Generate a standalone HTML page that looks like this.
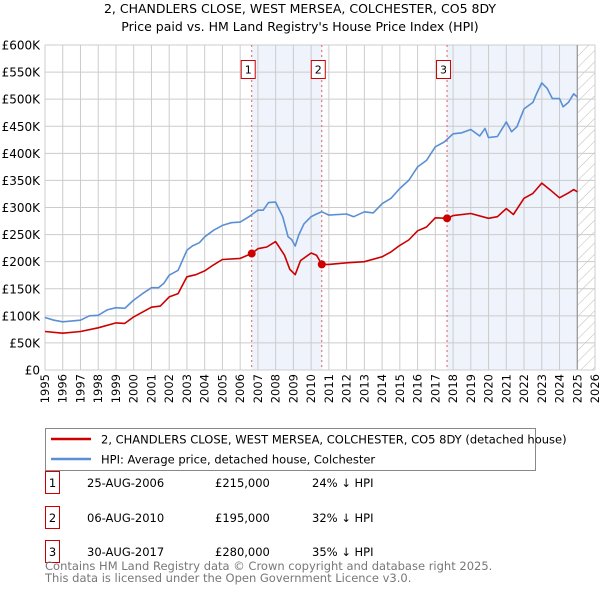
<!DOCTYPE html>
<html><head><meta charset="utf-8"><style>
body{margin:0;background:#fff;}
svg text{font-family:"DejaVu Sans","Liberation Sans",sans-serif;}
</style></head><body>
<svg id="c" width="600" height="590" viewBox="0 0 600 590" xmlns="http://www.w3.org/2000/svg">
<defs><pattern id="hatch" width="8" height="8" patternUnits="userSpaceOnUse" patternTransform="rotate(45)"><line x1="0" y1="0" x2="0" y2="8" stroke="#bbb" stroke-width="1"/></pattern></defs>
<text x="300" y="13" text-anchor="middle" font-size="12.5">2, CHANDLERS CLOSE, WEST MERSEA, COLCHESTER, CO5 8DY</text>
<text x="300" y="31" text-anchor="middle" font-size="12.5">Price paid vs. HM Land Registry's House Price Index (HPI)</text>
<g id="plot"></g>
<g>
<rect x="45.5" y="428.5" width="490" height="42" fill="#fff" stroke="#888"/>
<line x1="51" y1="439" x2="91" y2="439" stroke="#cc0000" stroke-width="2.5"/>
<text x="101" y="443.5" font-size="11.5">2, CHANDLERS CLOSE, WEST MERSEA, COLCHESTER, CO5 8DY (detached house)</text>
<line x1="51" y1="459" x2="91" y2="459" stroke="#5b8fd4" stroke-width="2.5"/>
<text x="101" y="463.5" font-size="11.5">HPI: Average price, detached house, Colchester</text>
</g>
<g id="table" font-size="11.5"></g>
<text x="45" y="570" font-size="11.5" fill="#777">Contains HM Land Registry data © Crown copyright and database right 2025.</text>
<text x="45" y="582" font-size="11.5" fill="#777">This data is licensed under the Open Government Licence v3.0.</text>
</svg>
<script>
const hpiYears=[1995,1995.5,1996,1997,1997.5,1998,1998.5,1999,1999.5,2000,2000.5,2001,2001.4,2001.7,2002,2002.5,2003,2003.3,2003.7,2004,2004.5,2005,2005.5,2006,2006.5,2007,2007.3,2007.6,2008,2008.4,2008.7,2008.9,2009.1,2009.3,2009.6,2010,2010.3,2010.6,2011,2012,2012.4,2013,2013.5,2014,2014.5,2015,2015.5,2016,2016.5,2017,2017.5,2018,2018.5,2019,2019.5,2019.8,2020,2020.5,2021,2021.3,2021.6,2022,2022.5,2022.7,2023,2023.3,2023.6,2024,2024.2,2024.5,2024.8,2025];
const hpiValues=[97,92,89,92,100,101,111,115,114,129,141,152,152,160,175,184,221,229,235,246,258,267,272,273,283,295,295,309,310,283,246,241,229,249,270,283,288,292,286,288,283,292,290,307,317,335,350,375,387,412,421,436,438,444,432,446,429,431,458,440,449,482,494,510,530,520,501,501,486,494,510,504];
const propYears=[1995,1996,1997,1998,1999,1999.5,2000,2001,2001.5,2002,2002.5,2003,2003.5,2004,2004.5,2005,2006,2006.65,2007,2007.5,2008,2008.5,2008.8,2009.1,2009.4,2010,2010.3,2010.6,2011,2012,2013,2014,2014.5,2015,2015.5,2016,2016.5,2017,2017.66,2018,2019,2020,2020.5,2021,2021.4,2022,2022.5,2023,2023.5,2024,2024.5,2024.8,2025];
const propValues=[71,68,71,78,87,86,98,116,118,135,141,172,176,183,194,204,206,215,224,227,237,212,186,176,202,216,212,195,195,198,200,209,218,230,240,257,264,281,280,285,289,280,283,298,287,317,326,345,332,318,327,333,329];
const saleYears=[2006.65,2010.6,2017.66];
const saleValues=[215,195,280];
const saleLabels=["1","2","3"];
const saleDates=["25-AUG-2006","06-AUG-2010","30-AUG-2017"];
const salePrices=["£215,000","£195,000","£280,000"];
const saleDiffs=["24% ↓ HPI","32% ↓ HPI","35% ↓ HPI"];
const yTicks=[0,50,100,150,200,250,300,350,400,450,500,550,600];
const yTickLabels=["£0","£50K","£100K","£150K","£200K","£250K","£300K","£350K","£400K","£450K","£500K","£550K","£600K"];
const xTicks=[];for(let y=1995;y<=2026;y++)xTicks.push(y);

const X0=45,X1=595,Y0=370,Y1=45;
const xs=v=>X0+(v-1995)/(2026-1995)*(X1-X0);
const ys=v=>Y0-v/600*(Y0-Y1);
const NS="http://www.w3.org/2000/svg";
const plot=document.getElementById('plot');
function mk(tag,attrs,parent){const e=document.createElementNS(NS,tag);for(const k in attrs)e.setAttribute(k,attrs[k]);(parent||plot).appendChild(e);return e;}

let bg=mk('rect',{x:X0,y:Y1,width:X1-X0,height:Y0-Y1,fill:'#fff'});


let s1=mk('rect',{x:xs(saleYears[0]),y:Y1,width:xs(saleYears[1])-xs(saleYears[0]),height:Y0-Y1,fill:'#eef3fc'});


let s2=mk('rect',{x:xs(saleYears[2]),y:Y1,width:xs(2025)-xs(saleYears[2]),height:Y0-Y1,fill:'#eef3fc'});


let ht=mk('rect',{x:xs(2025),y:Y1,width:X1-xs(2025),height:Y0-Y1,fill:'url(#hatch)'});


xTicks.forEach(t=>{
  let l=mk('line',{x1:xs(t),x2:xs(t),y1:Y1,y2:Y0,stroke:'#ccc','stroke-width':1});
  
  
  let tx=mk('text',{transform:`translate(${xs(t)+4},374) rotate(-90)`,'text-anchor':'end','font-size':'11.5'});
  tx.textContent=t;
  
  
});
yTicks.forEach((t,i)=>{
  let l=mk('line',{x1:X0,x2:X1,y1:ys(t),y2:ys(t),stroke:'#ccc','stroke-width':1});
  
  
  let tx=mk('text',{x:40,y:ys(t)+4.5,'text-anchor':'end','font-size':'12'});
  tx.textContent=yTickLabels[i];
  
  
});
let dl=mk('line',{x1:xs(2025),x2:xs(2025),y1:Y1,y2:Y0,stroke:'#888','stroke-width':1});


saleYears.forEach((y,i)=>{
  let l=mk('line',{x1:xs(y),x2:xs(y),y1:Y1,y2:Y0,stroke:'#e06060','stroke-width':1,'stroke-dasharray':'2,3'});
  
  
});
function path(xsArr,vs,color,name){
  let d=xsArr.map((x,i)=>(i?'L':'M')+xs(x).toFixed(1)+','+ys(vs[i]).toFixed(1)).join('');
  let p=mk('path',{d:d,fill:'none',stroke:color,'stroke-width':1.6,'stroke-linejoin':'round'});
  
  
}
path(hpiYears,hpiValues,'#5b8fd4','hpi-line');
path(propYears,propValues,'#cc0000','property-line');
saleYears.forEach((y,i)=>{
  let c=mk('circle',{cx:xs(y),cy:ys(saleValues[i]),r:4,fill:'#cc0000'});
  
  
  let b=mk('rect',{x:xs(y)-10.5,y:60.5,width:14,height:18,fill:'#fff',stroke:'#cc0000'});
  
  
  let t=mk('text',{x:xs(y)-3.5,y:73.5,'text-anchor':'middle','font-size':'11'});
  t.textContent=saleLabels[i];
  
  
});
let ax=mk('line',{x1:X0,x2:X1,y1:Y0,y2:Y0,stroke:'#ccc'});



const tbl=document.getElementById('table');
const rowY=[483,518,552];
saleLabels.forEach((lab,i)=>{
  const cy=rowY[i];
  let b=mk('rect',{x:45.5,y:cy-11.5,width:14,height:22,fill:'#fff',stroke:'#cc0000'},tbl);
  
  
  const cols=[[52.5,lab,'middle'],[87,saleDates[i],'start'],[215,salePrices[i],'start'],[312,saleDiffs[i],'start']];
  cols.forEach(c=>{
    let t=mk('text',{x:c[0],y:cy+4,'text-anchor':c[2]},tbl);
    t.textContent=c[1];
    
    
  });
});
</script>
</body></html>
